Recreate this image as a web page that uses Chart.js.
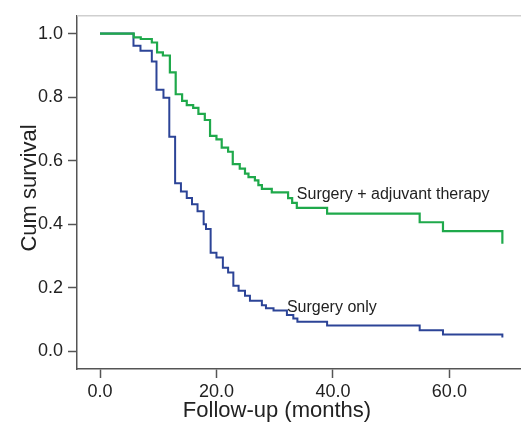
<!DOCTYPE html>
<html>
<head>
<meta charset="utf-8">
<title>Cum survival</title>
<script src="https://cdn.jsdelivr.net/npm/chart.js@4/dist/chart.umd.min.js"></script>
<style>
  html, body { margin: 0; padding: 0; background: #fff; }
  #wrap { width: 521px; height: 424px; position: relative; }
</style>
</head>
<body>
<div id="wrap"><canvas id="kmChart" width="521" height="424"></canvas></div>
<script>
// Kaplan-Meier curves (months, cumulative survival)
const adjuvantMonths = [0, 5.8, 7.0, 8.9, 9.8, 10.8, 12.0, 13.0, 14.1, 14.9, 16.0, 16.9, 18.0, 18.9, 20.0, 20.9, 22.0, 22.8, 24.0, 24.9, 25.5, 26.6, 27.2, 27.8, 29.5, 32.3, 33.0, 33.8, 39.0, 54.9, 58.9, 69.1];
const adjuvantSurv   = [1.0, 0.988, 0.983, 0.972, 0.941, 0.931, 0.878, 0.809, 0.788, 0.775, 0.766, 0.747, 0.728, 0.678, 0.667, 0.641, 0.628, 0.589, 0.575, 0.559, 0.548, 0.538, 0.523, 0.511, 0.500, 0.482, 0.467, 0.451, 0.433, 0.406, 0.378, 0.338];

const surgeryMonths = [0, 5.75, 6.95, 8.9, 9.7, 10.9, 11.9, 12.9, 13.9, 14.9, 15.8, 16.75, 17.8, 18.2, 19.0, 20.0, 21.1, 22.0, 22.9, 23.8, 24.9, 25.75, 27.8, 28.5, 29.8, 32.1, 33.2, 33.9, 39.0, 54.9, 58.9, 69.1];
const surgerySurv   = [1.0, 0.962, 0.946, 0.912, 0.823, 0.798, 0.675, 0.529, 0.503, 0.482, 0.463, 0.441, 0.400, 0.385, 0.310, 0.295, 0.263, 0.248, 0.206, 0.190, 0.175, 0.159, 0.145, 0.135, 0.128, 0.114, 0.103, 0.093, 0.081, 0.066, 0.053, 0.043];

const xTicks = [0, 20, 40, 60];
const yTicks = [0, 0.2, 0.4, 0.6, 0.8, 1.0];

const seriesNames = ['Surgery + adjuvant therapy', 'Surgery only'];
const xTitle = 'Follow-up (months)';
const yTitle = 'Cum survival';

const FONT = '"Liberation Sans", Arial, Helvetica, sans-serif';
const GREEN = '#1fa94b';
const BLUE  = '#2c4497';
const AXIS  = '#555555';
const TEXT  = '#222222';

const toPoints = (xs, ys) => xs.map((x, i) => ({ x, y: ys[i] }));

// frame top line, axis titles and curve labels
const decorPlugin = {
  id: 'decor',
  afterDraw(chart) {
    const { ctx, chartArea, scales } = chart;
    ctx.save();
    ctx.strokeStyle = '#cfcfcf';
    ctx.lineWidth = 1.5;
    ctx.beginPath();
    ctx.moveTo(chartArea.left, chartArea.top);
    ctx.lineTo(chartArea.right, chartArea.top);
    ctx.stroke();

    ctx.fillStyle = TEXT;
    ctx.font = `22px ${FONT}`;
    ctx.textAlign = 'center';
    ctx.textBaseline = 'middle';
    ctx.fillText(xTitle, 277, 411);

    ctx.save();
    ctx.translate(30, 188);
    ctx.rotate(-Math.PI / 2);
    ctx.fillText(yTitle, 0, 0);
    ctx.restore();

    ctx.font = `16px ${FONT}`;
    ctx.textAlign = 'left';
    ctx.textBaseline = 'alphabetic';
    ctx.fillText(seriesNames[0], scales.x.getPixelForValue(33.8), scales.y.getPixelForValue(0.479));
    ctx.fillText(seriesNames[1], scales.x.getPixelForValue(32.1), scales.y.getPixelForValue(0.123));
    ctx.restore();
  },
};

function buildChart() {
  const canvas = document.getElementById('kmChart');
  return new Chart(canvas, {
    type: 'line',
    data: {
      datasets: [
        { label: seriesNames[1], data: toPoints(surgeryMonths, surgerySurv), borderColor: BLUE, borderWidth: 2, stepped: true, pointRadius: 0, fill: false, order: 2 },
        { label: seriesNames[0], data: toPoints(adjuvantMonths, adjuvantSurv), borderColor: GREEN, borderWidth: 2.2, stepped: true, pointRadius: 0, fill: false, order: 0 },
      ],
    },
    options: {
      responsive: false,
      animation: false,
      layout: { padding: { top: 13, right: 0, left: 0, bottom: 0 } },
      plugins: { legend: { display: false }, tooltip: { enabled: false } },
      scales: {
        x: {
          type: 'linear',
          min: -3.95,
          max: 72.3,
          afterBuildTicks: (s) => { s.ticks = xTicks.map((v) => ({ value: v })); },
          afterFit: (s) => { s.height = 55; },
          grid: { drawOnChartArea: false, drawTicks: true, tickLength: 9, tickColor: AXIS, tickWidth: 1.5 },
          border: { display: true, color: AXIS, width: 1.5 },
          ticks: { color: TEXT, font: { family: FONT, size: 18 }, padding: 3, maxRotation: 0, callback: (v) => Number(v).toFixed(1) },
        },
        y: {
          type: 'linear',
          min: -0.056,
          max: 1.056,
          afterBuildTicks: (s) => { s.ticks = yTicks.map((v) => ({ value: v })); },
          afterFit: (s) => { s.width = 77; },
          grid: { drawOnChartArea: false, drawTicks: true, tickLength: 9, tickColor: AXIS, tickWidth: 1.5 },
          border: { display: true, color: AXIS, width: 1.5 },
          ticks: { color: TEXT, font: { family: FONT, size: 18 }, padding: 5, callback: (v) => Number(v).toFixed(1) },
        },
      },
    },
    plugins: [decorPlugin],
  });
}

document.addEventListener('DOMContentLoaded', buildChart);
</script>
</body>
</html>
